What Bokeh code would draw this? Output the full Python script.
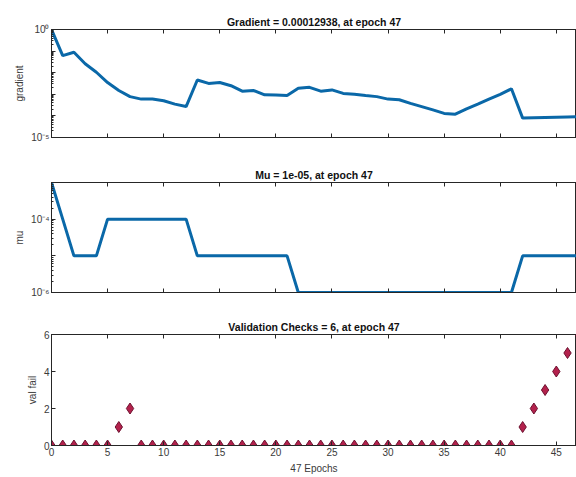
from bokeh.plotting import figure
from bokeh.layouts import column
from bokeh.models import LinearAxis, FixedTicker, CustomJSTickFormatter, Range1d
from bokeh.embed import file_html
from bokeh.resources import INLINE

epochs = list(range(48))
gradient = [1.0, 0.062, 0.089, 0.026, 0.0105, 0.0035, 0.0015, 0.00078, 0.0006, 0.0006,
            0.0005, 0.00035, 0.00027, 0.0046, 0.0032, 0.0035, 0.0025, 0.0014, 0.0015, 0.00095,
            0.00093, 0.00087, 0.0019, 0.0021, 0.0014, 0.0016, 0.0011, 0.001, 0.00087, 0.00078,
            0.0006, 0.00056, 0.00038, 0.00027, 0.00019, 0.00013, 0.00012, 0.00021, 0.00035, 0.0006,
            0.001, 0.0018, 0.000079, 0.000083, 0.000085, 0.000087, 0.000089, 0.000091]
mu = [1e-3, 1e-4, 1e-5, 1e-5, 1e-5,
      1e-4, 1e-4, 1e-4, 1e-4, 1e-4, 1e-4, 1e-4, 1e-4,
      1e-5, 1e-5, 1e-5, 1e-5, 1e-5, 1e-5, 1e-5, 1e-5, 1e-5,
      1e-6, 1e-6, 1e-6, 1e-6, 1e-6, 1e-6, 1e-6, 1e-6, 1e-6, 1e-6,
      1e-6, 1e-6, 1e-6, 1e-6, 1e-6, 1e-6, 1e-6, 1e-6, 1e-6, 1e-6,
      1e-5, 1e-5, 1e-5, 1e-5, 1e-5, 1e-5]
val_fail = [0, 0, 0, 0, 0, 0, 1, 2, 0, 0,
            0, 0, 0, 0, 0, 0, 0, 0, 0, 0,
            0, 0, 0, 0, 0, 0, 0, 0, 0, 0,
            0, 0, 0, 0, 0, 0, 0, 0, 0, 0,
            0, 0, 1, 2, 3, 4, 5, 6]
x_ticks = [0, 5, 10, 15, 20, 25, 30, 35, 40, 45]
val_ticks = [0, 2, 4, 6]
grad_title = "Gradient = 0.00012938, at epoch 47"
mu_title = "Mu = 1e-05, at epoch 47"
val_title = "Validation Checks = 6, at epoch 47"
grad_ylabel = "gradient"
mu_ylabel = "mu"
val_ylabel = "val fail"
xlabel = "47 Epochs"

FONT = "Liberation Sans"
LINE = "#0a68a8"
AX = "#262626"
TXT = "#3a3a3a"


def style_axis(ax, labels=True):
    ax.axis_line_color = AX
    ax.major_tick_line_color = AX
    ax.minor_tick_line_color = AX
    ax.major_tick_in = 4
    ax.major_tick_out = 0
    ax.minor_tick_in = 2
    ax.minor_tick_out = 0
    ax.major_label_text_font = FONT
    ax.major_label_text_color = TXT
    ax.major_label_text_font_size = "10px"
    ax.axis_label_text_font = FONT
    ax.axis_label_text_color = TXT
    ax.axis_label_text_font_style = "normal"
    ax.axis_label_text_font_size = "10px"
    ax.major_label_standoff = 2
    ax.axis_label_standoff = 3
    if not labels:
        ax.formatter = CustomJSTickFormatter(code="return '';")
        ax.major_label_standoff = 0


def make(height, btop, bbot, y_range, ytype, title, xlabels):
    p = figure(width=576, height=height, x_range=Range1d(0, 46.8), y_range=y_range,
               y_axis_type=ytype, output_backend="svg", toolbar_location=None,
               min_border_left=51, min_border_right=0, min_border_top=btop,
               min_border_bottom=bbot)
    p.title.text = title
    p.title.align = "center"
    p.title.text_font = FONT
    p.title.text_font_size = "10.5px"
    p.title.text_font_style = "bold"
    p.title.text_color = "#111111"
    p.title.standoff = 4
    p.xgrid.visible = False
    p.ygrid.visible = False
    p.outline_line_color = AX
    p.outline_line_width = 1
    bottom = p.below[0]
    bottom.ticker = FixedTicker(ticks=x_ticks)
    style_axis(bottom, labels=xlabels)
    style_axis(p.left[0])
    top = LinearAxis(ticker=FixedTicker(ticks=x_ticks))
    style_axis(top, labels=False)
    p.add_layout(top, "above")
    return p


p1 = make(160, 29, 23, Range1d(1e-5, 1.0), "log", grad_title, False)
p1.line(epochs, gradient, line_color=LINE, line_width=3)
p1.left[0].axis_label = grad_ylabel
p1.left[0].formatter = CustomJSTickFormatter(code="""
const e = Math.round(Math.log10(tick));
if (e == 0) return '10\u2070';
if (e == -5) return '10\u207b\u2075';
return '';
""")

p2 = make(150, 22, 18, Range1d(1e-6, 1e-3), "log", mu_title, False)
p2.line(epochs, mu, line_color=LINE, line_width=3)
p2.left[0].axis_label = mu_ylabel
p2.left[0].formatter = CustomJSTickFormatter(code="""
const e = Math.round(Math.log10(tick));
if (e == -4) return '10\u207b\u2074';
if (e == -6) return '10\u207b\u2076';
return '';
""")

p3 = make(167, 24, 32, Range1d(0, 6), "linear", val_title, True)
p3.scatter(epochs, val_fail, marker="diamond", size=11, fill_color="#b3214c",
           line_color="#6e1230", line_width=1)
p3.left[0].ticker = FixedTicker(ticks=val_ticks)
p3.left[0].axis_label = val_ylabel
p3.below[0].axis_label = xlabel
p3.below[0].axis_label_standoff = 4

layout = column(p1, p2, p3, spacing=0)
with open("out.html", "w", encoding="utf-8") as f:
    f.write(file_html(layout, INLINE))
